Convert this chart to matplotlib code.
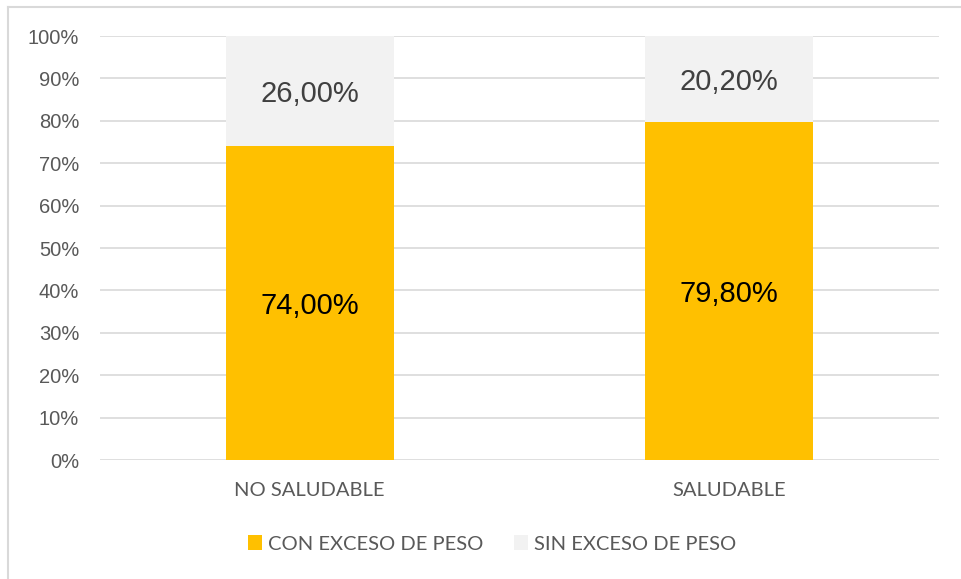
import matplotlib.pyplot as plt
import numpy as np

categorias = ['NO SALUDABLE', 'SALUDABLE']
con_exceso = [74.0, 79.8]
sin_exceso = [26.0, 20.2]
series = ['CON EXCESO DE PESO', 'SIN EXCESO DE PESO']
yticks = list(range(0, 101, 10))

fig = plt.figure(figsize=(9.61, 5.79), dpi=100)
ax = fig.add_axes([100/961, 1 - 460/579, (939-100)/961, (460-36)/579])

x = np.arange(len(categorias))
b1 = ax.bar(x, con_exceso, width=0.4, color='#FFC000', label=series[0], zorder=2)
b2 = ax.bar(x, sin_exceso, width=0.4, bottom=con_exceso, color='#F2F2F2', label=series[1], zorder=2)

for i in range(len(categorias)):
    ax.text(x[i], con_exceso[i] / 2, f'{con_exceso[i]:.2f}%'.replace('.', ','),
            ha='center', va='center_baseline', fontsize=21, color='#000000', family='Liberation Sans')
    ax.text(x[i], con_exceso[i] + sin_exceso[i] / 2, f'{sin_exceso[i]:.2f}%'.replace('.', ','),
            ha='center', va='center_baseline', fontsize=21, color='#404040', family='Liberation Sans')

ax.set_xlim(-0.5, 1.5)
ax.set_ylim(0, 100)
ax.set_yticks(yticks)
ax.set_yticklabels([f'{t}%' for t in yticks], family='Liberation Sans', fontsize=14.5, color='#595959')
ax.set_xticks(x)
ax.set_xticklabels(categorias, family='Lato', fontsize=14.5, color='#595959')
ax.tick_params(length=0)
ax.tick_params(axis='y', pad=15)
ax.tick_params(axis='x', pad=16)
ax.grid(axis='y', color='#D9D9D9', linewidth=1.2, zorder=0)
for s in ax.spines.values():
    s.set_visible(False)

leg = fig.legend(handles=[b1, b2], labels=series, loc='center', bbox_to_anchor=(0.512, 1 - 544/579),
                 ncol=2, frameon=False, handlelength=0.7, handleheight=0.7, handletextpad=0.3,
                 columnspacing=1.5, prop={'family': 'Lato', 'size': 14.5})
for t in leg.get_texts():
    t.set_color('#595959')

# chart border (only left and top visible)
fig.add_artist(plt.Line2D([7.5/961, 7.5/961], [0, 1 - 6.5/579], color='#D9D9D9', linewidth=1.5))
fig.add_artist(plt.Line2D([7.5/961, 1], [1 - 6.5/579, 1 - 6.5/579], color='#D9D9D9', linewidth=1.5))

fig.savefig('out.png', dpi=100)
